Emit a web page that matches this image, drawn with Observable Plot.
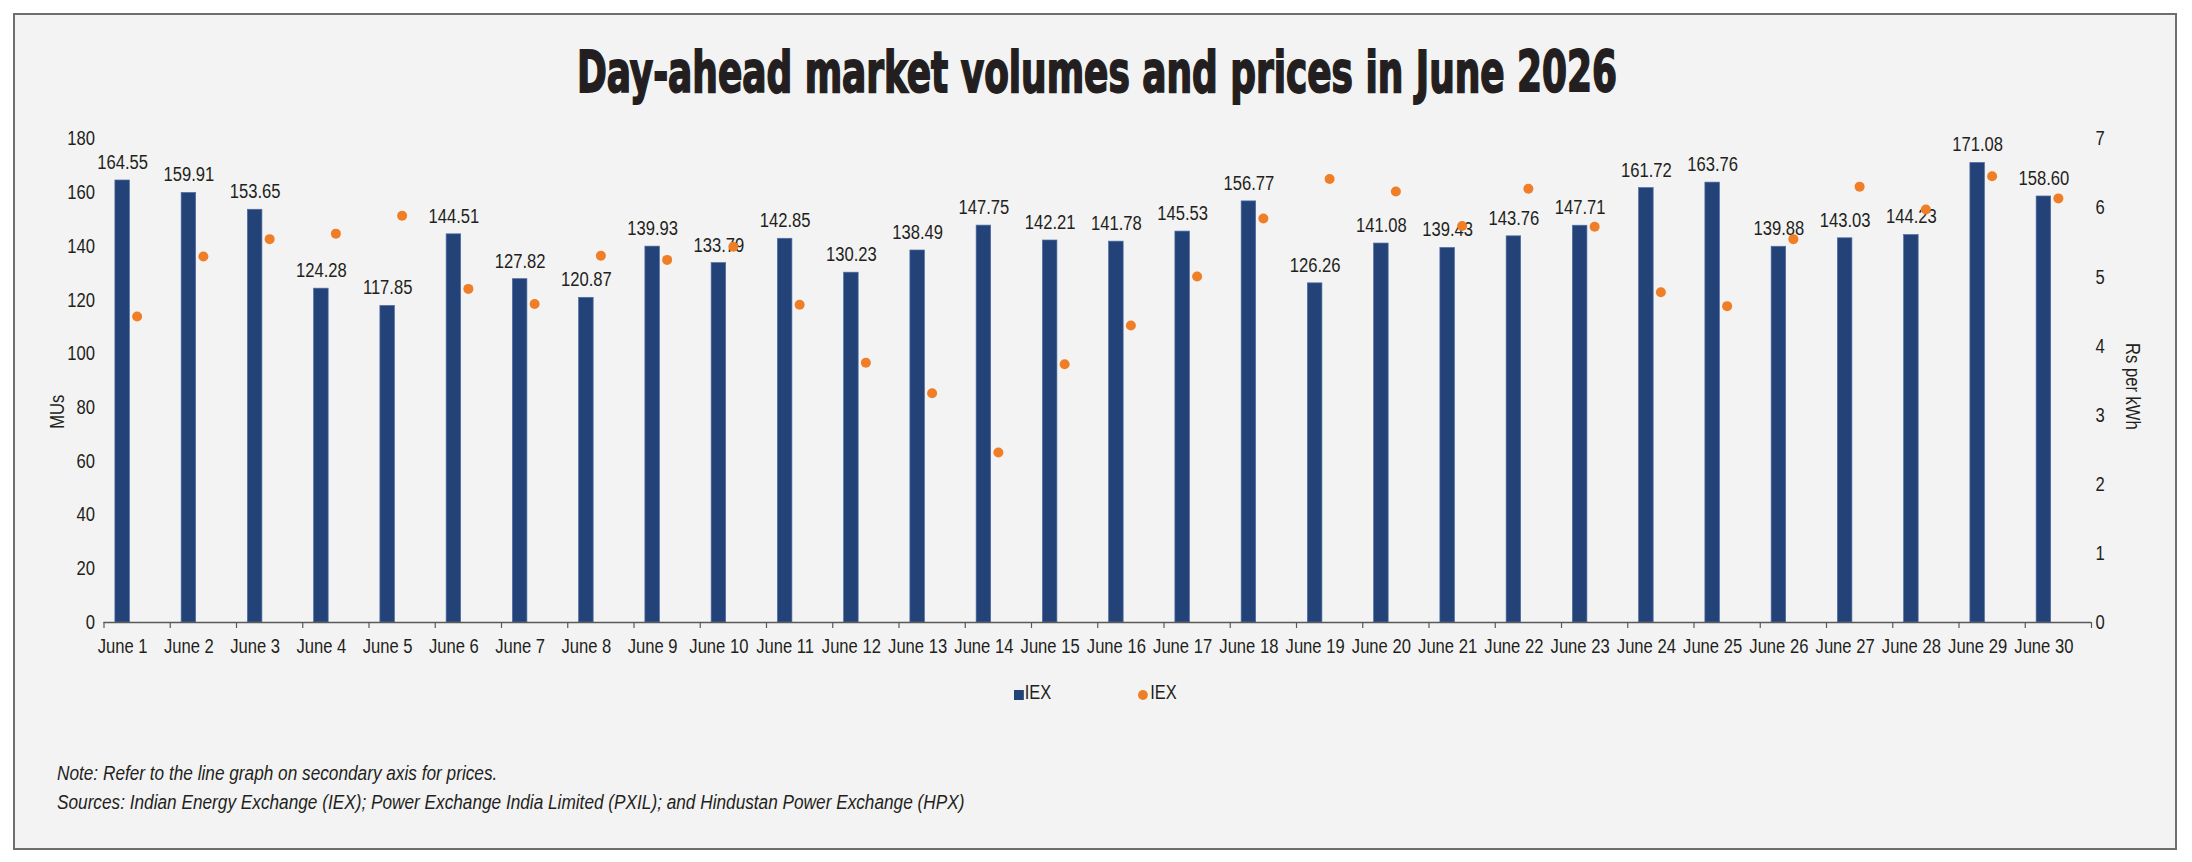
<!DOCTYPE html>
<html>
<head>
<meta charset="utf-8">
<script src="https://cdn.jsdelivr.net/npm/d3@7"></script>
<script src="https://cdn.jsdelivr.net/npm/@observablehq/plot@0.6"></script>
<style>
  html, body { margin: 0; padding: 0; background: #ffffff; }
  body { width: 2192px; height: 862px; position: relative; overflow: hidden;
         font-family: "Liberation Sans", Arial, sans-serif; color: #231f20; }
  #panel { position: absolute; left: 13px; top: 13px; width: 2164px; height: 837px; box-sizing: border-box;
           border: 2px solid #6e6e6e; background: #f3f3f3; }
  #title { position: absolute; left: 0; top: 0; }
  #chart { position: absolute; left: 0; top: 0; }
  .leg { position: absolute; font-size: 20px; line-height: 24px; height: 24px; top: 680px; white-space: nowrap;
         transform: scaleX(0.82); transform-origin: 0 50%; }
  .note { position: absolute; left: 57px; font-size: 20.5px; line-height: 24px; font-style: italic; white-space: nowrap;
          transform: scaleX(0.84); transform-origin: 0 50%; }
</style>
</head>
<body>
<div id="panel"></div>
<svg id="title" width="2192" height="120">
  <text x="1097" y="92" text-anchor="middle" textLength="1040" lengthAdjust="spacingAndGlyphs"
        font-family="DejaVu Sans Condensed, DejaVu Sans, sans-serif" font-weight="bold" font-size="57"
        fill="#231f20" stroke="#231f20" stroke-width="1.8">Day-ahead market volumes and prices in June 2026</text>
</svg>
<div id="chart"></div>
<div class="leg" style="left:1014px;"><span style="display:inline-block;width:12px;height:10px;background:#234378;margin-right:1px;vertical-align:-1px;"></span>IEX</div>
<div class="leg" style="left:1138px;"><span style="display:inline-block;width:12px;height:10px;border-radius:50%;background:#f07e26;margin-right:3px;vertical-align:-1px;"></span>IEX</div>
<div class="note" style="top:761px;">Note: Refer to the line graph on secondary axis for prices.</div>
<div class="note" style="top:790px;">Sources: Indian Energy Exchange (IEX); Power Exchange India Limited (PXIL); and Hindustan Power Exchange (HPX)</div>
<script>
const days = [1,2,3,4,5,6,7,8,9,10,11,12,13,14,15,16,17,18,19,20,21,22,23,24,25,26,27,28,29,30];
const dayLabels = ["June 1","June 2","June 3","June 4","June 5","June 6","June 7","June 8","June 9","June 10",
  "June 11","June 12","June 13","June 14","June 15","June 16","June 17","June 18","June 19","June 20",
  "June 21","June 22","June 23","June 24","June 25","June 26","June 27","June 28","June 29","June 30"];
const volumes = [164.55,159.91,153.65,124.28,117.85,144.51,127.82,120.87,139.93,133.79,
  142.85,130.23,138.49,147.75,142.21,141.78,145.53,156.77,126.26,141.08,
  139.43,143.76,147.71,161.72,163.76,139.88,143.03,144.23,171.08,158.60];
const prices = [4.43,5.30,5.55,5.63,5.89,4.83,4.61,5.31,5.25,5.44,
  4.60,3.76,3.32,2.46,3.74,4.30,5.01,5.85,6.42,6.24,
  5.74,6.28,5.73,4.78,4.58,5.55,6.31,5.98,6.46,6.14];
const volTicks = [0,20,40,60,80,100,120,140,160,180];
const priceTicks = [0,1,2,3,4,5,6,7];
const volMax = 180, priceMax = 7;
const k = volMax / priceMax;

const data = days.map((d, i) => ({day: d, label: dayLabels[i], volume: volumes[i], price: prices[i]}));
const boundaries = days.map(d => d - 0.5).concat([days[days.length - 1] + 0.5]);

const barOff1 = 0.328, barOff2 = 0.109, barMid = (barOff1 + barOff2) / 2;

const chart = Plot.plot({
  width: 2192,
  height: 700,
  marginLeft: 103.5,
  marginRight: 101,
  marginTop: 138.5,
  marginBottom: 78,
  style: {background: "transparent", fontFamily: "'Liberation Sans', Arial, sans-serif", fontSize: "20px", color: "#231f20", overflow: "visible"},
  x: {type: "linear", domain: [0.5, 30.5]},
  y: {domain: [0, volMax]},
  marks: [
    Plot.rectY(data, {x1: d => d.day - barOff1, x2: d => d.day - barOff2, y1: 0, y2: "volume", fill: "#234378", stroke: "#4e6ca3", strokeWidth: 0.7}),
    Plot.ruleY([0], {stroke: "#595959", strokeWidth: 1.5}),
    Plot.axisX({ticks: boundaries, tickSize: 6, tickFormat: () => "", stroke: "#595959", strokeWidth: 1.2, label: null}),
    Plot.axisX({ticks: days, tickSize: 0, tickPadding: 16, tickFormat: d => dayLabels[days.indexOf(d)], dx: -14.5, fontSize: 20, label: null}),
    Plot.axisY(volTicks, {anchor: "left", tickSize: 0, tickPadding: 9, label: null, fontSize: 20}),
    Plot.axisY(priceTicks.map(v => v * k), {anchor: "right", tickSize: 0, tickPadding: 4, label: null, fontSize: 20, tickFormat: v => String(Math.round(v / k))}),
    Plot.text(["MUs"], {frameAnchor: "left", dx: -46, dy: 48, rotate: -90, fontSize: 20, fill: "#231f20"}),
    Plot.text(["Rs per kWh"], {frameAnchor: "right", dx: 41, dy: 49, rotate: 90, fontSize: 20, fill: "#231f20"}),
    Plot.text(data, {x: d => d.day - barMid, y: "volume", text: d => d.volume.toFixed(2), dy: -18, fontSize: 20, fill: "#231f20"}),
    Plot.dot(data, {x: "day", y: d => d.price * k, r: 5, fill: "#f07e26", stroke: null})
  ]
});
document.getElementById("chart").appendChild(chart);

// Emulate a narrow face (Arial Narrow ~ 82% of Arial width) by compressing glyphs.
chart.querySelectorAll("text").forEach(t => {
  if (!t.textContent) return;
  const len = t.getComputedTextLength();
  if (len > 0) {
    t.setAttribute("textLength", (len * 0.83).toFixed(2));
    t.setAttribute("lengthAdjust", "spacingAndGlyphs");
  }
});
</script>
</body>
</html>
